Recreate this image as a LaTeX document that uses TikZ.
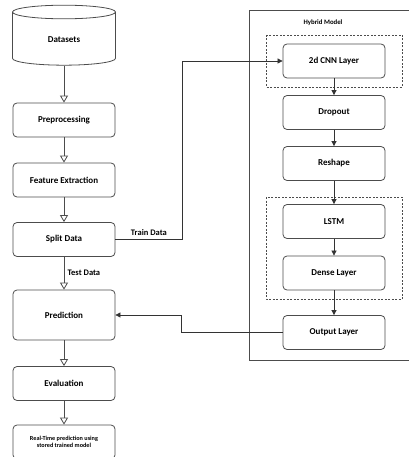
\documentclass[tikz,border=0pt]{standalone}
\usepackage{fontspec}
\setmainfont{Carlito}
\usepackage{tikz}
\usetikzlibrary{arrows.meta,positioning,shapes.geometric}

\begin{document}
\begin{tikzpicture}[
    x=1pt, y=-1pt,
    block/.style={rectangle, rounded corners=4pt, draw=black!70, line width=0.8pt, minimum width=102pt, minimum height=34pt, font=\fontsize{9}{10}\selectfont\bfseries},
    flow/.style={-{Triangle[open, width=8pt, length=7pt]}, draw=black!70, line width=0.8pt},
    link/.style={-{Triangle[width=5pt, length=5pt]}, draw=black!80, line width=0.7pt},
    group/.style={draw=black!70, line width=0.8pt, dash pattern=on 2pt off 1.5pt},
    frame/.style={draw=black!70, line width=0.8pt},
    tag/.style={font=\fontsize{8.5}{9}\selectfont\bfseries}
]
\useasboundingbox (0,0) rectangle (408,457);

% Pipeline
\node[cylinder, shape border rotate=90, aspect=0.35, draw=black!70, line width=0.8pt, minimum width=103pt, minimum height=60pt, font=\fontsize{9}{10}\selectfont\bfseries] (data) at (64,40) {Datasets};
\node[block] (pre) at (64,120) {Preprocessing};
\node[block] (feat) at (64,180) {Feature Extraction};
\node[block] (split) at (64,239.5) {Split Data};
\node[block, minimum height=50pt] (pred) at (64,315) {Prediction};
\node[block] (eval) at (64,383.5) {Evaluation};
\node[block, align=center, font=\fontsize{6.2}{7.5}\selectfont\bfseries] (rt) at (64,442) {Real-Time prediction using\\stored trained model};

% Hybrid model
\draw[frame] (249,10) rectangle (412,360);
\node[font=\fontsize{6.8}{8}\selectfont\bfseries] (title) at (323,23) {Hybrid Model};
\draw[group] (266,35) rectangle (402,87);
\draw[group] (266,197) rectangle (402,299);
\node[block] (cnn) at (334,61) {2d CNN Layer};
\node[block] (drop) at (334,112.5) {Dropout};
\node[block] (resh) at (334,163.5) {Reshape};
\node[block] (lstm) at (334,221.5) {LSTM};
\node[block] (dense) at (334,273) {Dense Layer};
\node[block] (out) at (334,332.5) {Output Layer};

% Left flow
\draw[flow] (data.south) -- (pre.north);
\draw[flow] (pre) -- (feat);
\draw[flow] (feat) -- (split);
\draw[flow] (split) -- node[right, tag] {Test Data} (pred);
\draw[flow] (pred) -- (eval);
\draw[flow] (eval) -- (rt);

% Model layers
\draw[link] (cnn) -- (drop);
\draw[link] (drop) -- (resh);
\draw[link] (resh) -- (lstm);
\draw[link] (lstm) -- (dense);
\draw[link] (dense) -- (out);

% Train / predict
\draw[link] (split.east) -- node[above, tag] {Train Data} ++(67,0) |- (cnn.west);
\draw[link] (out.west) -- ++(-101,0) |- (pred.east);

\end{tikzpicture}
\end{document}
